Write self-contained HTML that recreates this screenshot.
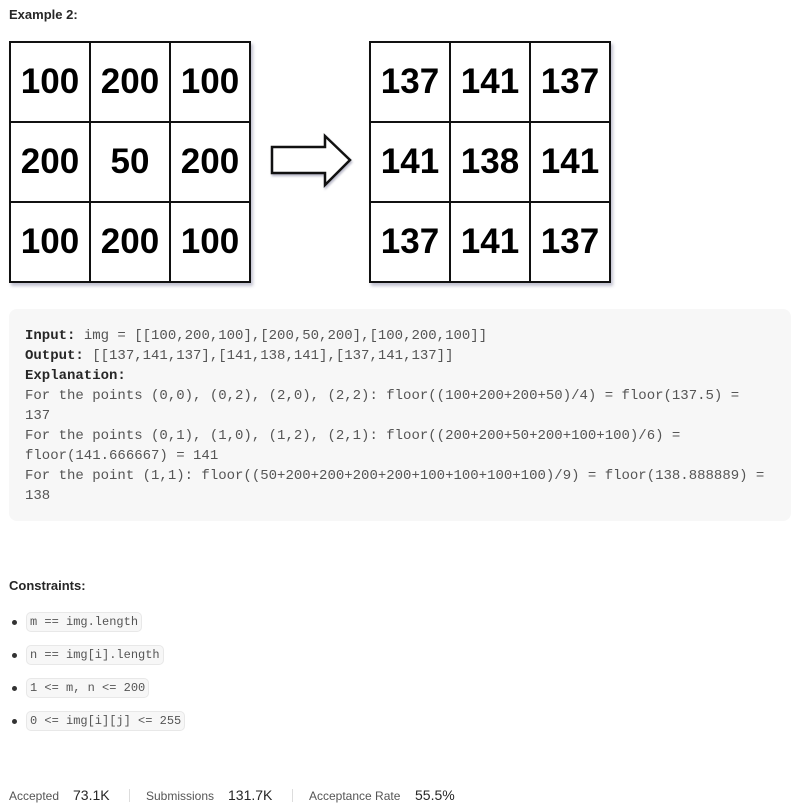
<!DOCTYPE html>
<html><head><meta charset="utf-8"><style>
body{margin:0;width:804px;height:811px;background:#fff;font-family:"Liberation Sans",sans-serif;color:#262626;position:relative;overflow:hidden}
.abs{position:absolute}
.grid{position:absolute;top:41px;width:240px;height:240px;border:1.5px solid #111;box-shadow:2px 3px 3px rgba(80,80,120,.35);display:grid;grid-template-columns:repeat(3,1fr);grid-template-rows:repeat(3,1fr)}
.grid div{border:1px solid #111;display:flex;align-items:center;justify-content:center;font-weight:bold;font-size:35px;color:#000}
pre{position:absolute;left:9px;top:309px;width:782px;height:212px;margin:0;background:#f7f7f7;border-radius:8px;font-family:"Liberation Mono",monospace;font-size:14px;line-height:20px;color:#555;padding:17px 0 0 16px;box-sizing:border-box}
pre b{color:#262626}
.h{font-weight:bold;font-size:13px;color:#262626}
ul{position:absolute;left:9px;top:612px;margin:0;padding:0;list-style:none}
li{height:33px;position:relative;padding-left:17px}
li:before{content:"";position:absolute;left:3px;top:8px;width:5px;height:5px;border-radius:50%;background:#333}
code{font-family:"Liberation Mono",monospace;font-size:12px;color:#555;background:#f7f7f7;border:1px solid #e8e8e8;border-radius:5px;padding:2px 3px}
.st{position:absolute;top:789px;font-size:12px;color:#555}
.sv{position:absolute;top:787px;font-size:14px;color:#262626}
.sep{position:absolute;top:789px;width:1px;height:13px;background:#ddd}
</style></head><body>
<div class="abs h" style="left:9px;top:7px">Example 2:</div>
<div class="grid" style="left:9px"><div>100</div><div>200</div><div>100</div><div>200</div><div>50</div><div>200</div><div>100</div><div>200</div><div>100</div></div>
<svg class="abs" style="left:268px;top:133px" width="90" height="60"><path d="M4 14 H57 V3 L82 27 L57 52 V40 H4 Z" fill="#fff" stroke="#111" stroke-width="2.5" stroke-linejoin="miter" style="filter:drop-shadow(1px 2px 1px rgba(80,80,120,.4))"/></svg>
<div class="grid" style="left:369px"><div>137</div><div>141</div><div>137</div><div>141</div><div>138</div><div>141</div><div>137</div><div>141</div><div>137</div></div>
<pre><b>Input:</b> img = [[100,200,100],[200,50,200],[100,200,100]]
<b>Output:</b> [[137,141,137],[141,138,141],[137,141,137]]
<b>Explanation:</b>
For the points (0,0), (0,2), (2,0), (2,2): floor((100+200+200+50)/4) = floor(137.5) =
137
For the points (0,1), (1,0), (1,2), (2,1): floor((200+200+50+200+100+100)/6) =
floor(141.666667) = 141
For the point (1,1): floor((50+200+200+200+200+100+100+100+100)/9) = floor(138.888889) =
138</pre>
<div class="abs h" style="left:9px;top:578px">Constraints:</div>
<ul>
<li><code>m == img.length</code></li>
<li><code>n == img[i].length</code></li>
<li><code>1 &lt;= m, n &lt;= 200</code></li>
<li><code>0 &lt;= img[i][j] &lt;= 255</code></li>
</ul>
<div class="st" style="left:9px">Accepted</div><div class="sv" style="left:73px">73.1K</div>
<div class="sep" style="left:129px"></div>
<div class="st" style="left:146px">Submissions</div><div class="sv" style="left:228px">131.7K</div>
<div class="sep" style="left:292px"></div>
<div class="st" style="left:309px">Acceptance Rate</div><div class="sv" style="left:415px">55.5%</div>
</body></html>
